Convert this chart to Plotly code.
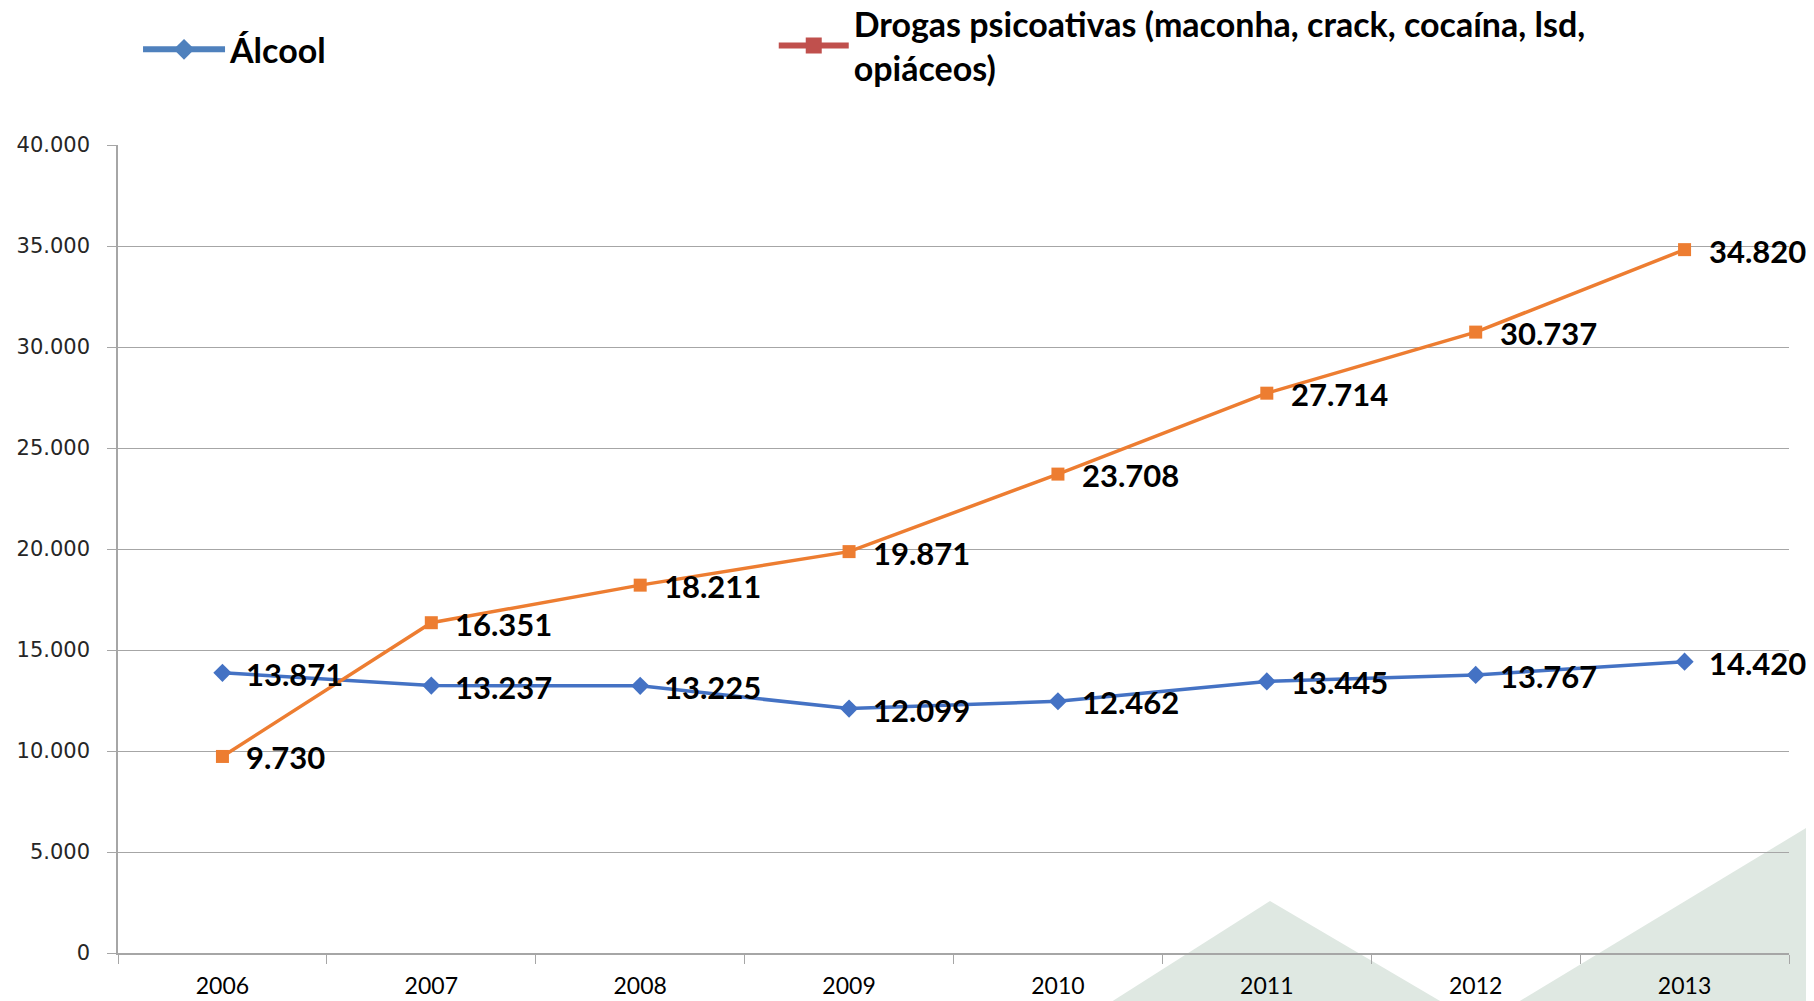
import plotly.graph_objects as go

anos = ["2006", "2007", "2008", "2009", "2010", "2011", "2012", "2013"]
alcool = [13871, 13237, 13225, 12099, 12462, 13445, 13767, 14420]
drogas = [9730, 16351, 18211, 19871, 23708, 27714, 30737, 34820]

nome_alcool = "<b>Álcool</b>"
nome_drogas = "<b>Drogas psicoativas (maconha, crack, cocaína, lsd,<br>opiáceos)</b>"


def fmt(v):
    return f"{v:,}".replace(",", ".")


rotulo_fonte = dict(family="Lato, 'Open Sans', sans-serif", size=31, color="black", weight="bold")

fig = go.Figure()

# linhas reais (fora da legenda)
fig.add_trace(go.Scatter(
    x=anos, y=alcool, mode="lines+markers", showlegend=False,
    line=dict(color="#4472c4", width=3.5),
    marker=dict(symbol="diamond", size=14, color="#4472c4"),
))
fig.add_trace(go.Scatter(
    x=anos, y=drogas, mode="lines+markers", showlegend=False,
    line=dict(color="#ed7d31", width=3.5),
    marker=dict(symbol="square", size=13, color="#ed7d31"),
))

# entradas de legenda com as cores antigas do Office
fig.add_trace(go.Scatter(
    x=[None], y=[None], mode="lines+markers", name=nome_alcool, legend="legend",
    line=dict(color="#4f81bd", width=6),
    marker=dict(symbol="diamond", size=17, color="#4f81bd"),
))
fig.add_trace(go.Scatter(
    x=[None], y=[None], mode="lines+markers", name=nome_drogas, legend="legend2",
    line=dict(color="#c0504d", width=6),
    marker=dict(symbol="square", size=17, color="#c0504d"),
))

# rotulos de dados (x pelo indice da categoria)
for serie in (alcool, drogas):
    for i, v in enumerate(serie):
        fig.add_annotation(
            x=i, y=v, text=fmt(v), showarrow=False,
            xanchor="left", yanchor="middle", xshift=22, yshift=-1,
            font=rotulo_fonte,
        )

# triangulos decorativos do fundo
tri = "#dfe8e2"
fig.add_shape(type="path", xref="paper", yref="paper", layer="below",
              path="M 0.5948 -0.06 L 0.6894 0.0644 L 0.7917 -0.06 Z",
              fillcolor=tri, line=dict(width=0))
fig.add_shape(type="path", xref="paper", yref="paper", layer="below",
              path="M 0.8384 -0.06 L 1.016 0.162 L 1.016 -0.06 Z",
              fillcolor=tri, line=dict(width=0))

legenda_fonte = dict(family="Lato, sans-serif", size=34, color="black")
fig.update_layout(
    width=1806, height=993,
    margin=dict(l=110, r=25, t=137, b=48),
    paper_bgcolor="white",
    plot_bgcolor="rgba(0,0,0,0)",
    separators=",.",
    legend=dict(
        xref="container", yref="container",
        x=0.072, y=0.958, xanchor="left", yanchor="middle",
        orientation="h", font=legenda_fonte, bgcolor="rgba(0,0,0,0)",
        itemwidth=82,
    ),
    legend2=dict(
        xref="container", yref="container",
        x=0.424, y=0.962, xanchor="left", yanchor="middle",
        orientation="h", font=legenda_fonte, bgcolor="rgba(0,0,0,0)",
        itemwidth=70,
    ),
    xaxis=dict(
        type="category", range=[-0.5, 7.5], automargin=False,
        showline=True, linecolor="#a6a6a6", linewidth=1.5,
        ticks="outside", tickson="boundaries", ticklen=9, tickcolor="#a6a6a6",
        showgrid=False, ticklabelstandoff=12,
        tickfont=dict(family="Lato, sans-serif", size=23, color="black"),
    ),
    yaxis=dict(
        range=[0, 40000], dtick=5000, tickformat=",d", automargin=False,
        showline=True, linecolor="#a6a6a6", linewidth=1.5,
        ticks="outside", ticklen=9, tickcolor="#a6a6a6",
        gridcolor="#a6a6a6", gridwidth=1.2, zeroline=False,
        ticklabelstandoff=13,
        tickfont=dict(family="'DejaVu Sans', Verdana, sans-serif", size=21, color="#262626"),
    ),
)

fig.write_html("out.html")
